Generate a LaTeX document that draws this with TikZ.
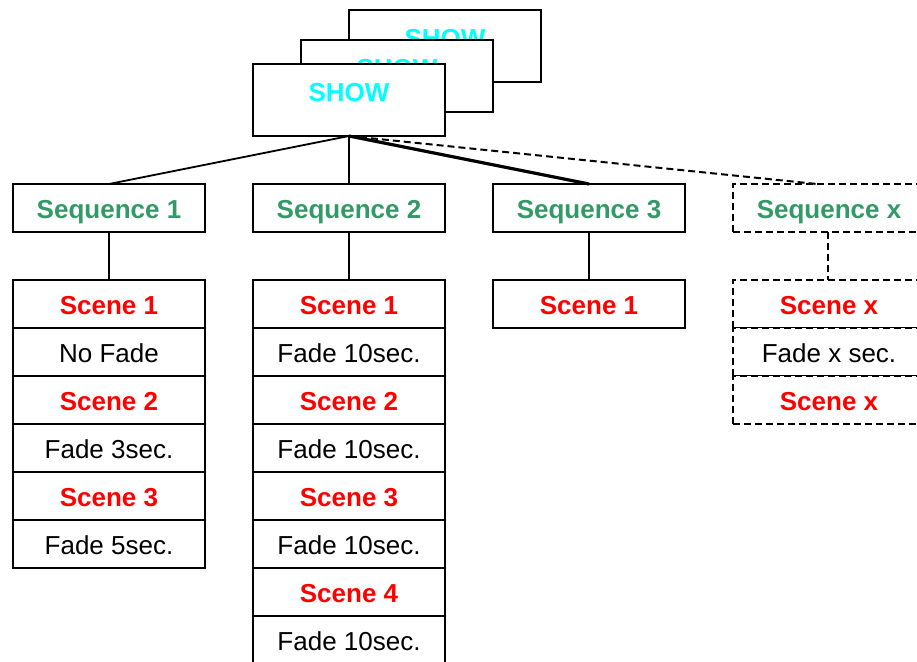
\documentclass[tikz,border=0pt]{standalone}
\usepackage{fontspec}
\setmainfont{Liberation Sans}
\definecolor{seqgreen}{RGB}{51,153,102}
\definecolor{showcyan}{RGB}{0,255,255}
\definecolor{scenered}{RGB}{255,0,0}
\begin{document}
\begin{tikzpicture}[x=1pt,y=-1pt,
  box/.style={draw,line width=1.8pt,fill=white,minimum width=192pt,minimum height=48pt,
    inner sep=0pt,outer sep=0pt,anchor=north west,font=\fontsize{26}{30}\selectfont,
    text height=21.4pt,text depth=0pt},
  showbox/.style={box,minimum height=72pt},
  showtxt/.style={font=\fontsize{26}{30}\selectfont\bfseries,text=showcyan,inner sep=0pt,text height=20.6pt,text depth=0pt},
  seqbox/.style={box,font=\fontsize{26}{30}\selectfont\bfseries,text=seqgreen},
  scenebox/.style={box,font=\fontsize{26}{30}\selectfont\bfseries,text=scenered},
  fadebox/.style={box,text=black},
  dashbox/.style={dash pattern=on 7pt off 4pt},
  conn/.style={line width=1.8pt},
  thickconn/.style={line width=3.2pt},
  dashconn/.style={line width=2pt,dash pattern=on 7pt off 4pt}
]
\useasboundingbox (0,0) rectangle (917,661);
\clip (0,0) rectangle (917,661);

% SHOW boxes
\node[showbox] (show3) at (349,10) {};
\node[showtxt] (show3t) at ([yshift=-27pt]show3.north) {SHOW};
\node[showbox] (show2) at (301,40) {};
\node[showtxt] (show2t) at ([yshift=-27pt]show2.north) {SHOW};
\node[showbox] (show1) at (253,64) {};
\node[showtxt] (show1t) at ([yshift=-27pt]show1.north) {SHOW};

% Sequences
\node[seqbox] (seq1) at (13,184) {Sequence 1};
\node[seqbox] (seq2) at (253,184) {Sequence 2};
\node[seqbox] (seq3) at (493,184) {Sequence 3};
\node[seqbox,dashbox] (seqx) at (733,184) {Sequence x};
\coordinate (seqxend) at (817,184);

\draw[conn] (show1.south) -- (seq1.north);
\draw[conn] (show1.south) -- (seq2.north);
\draw[thickconn] (show1.south) -- (seq3.north);
\draw[dashconn] (show1.south) -- (seqxend);

% Column 1
\node[scenebox] (c1r1) at (13,280) {Scene 1};
\node[fadebox]  (c1r2) at (13,328) {No Fade};
\node[scenebox] (c1r3) at (13,376) {Scene 2};
\node[fadebox]  (c1r4) at (13,424) {Fade 3sec.};
\node[scenebox] (c1r5) at (13,472) {Scene 3};
\node[fadebox]  (c1r6) at (13,520) {Fade 5sec.};

% Column 2
\node[scenebox] (c2r1) at (253,280) {Scene 1};
\node[fadebox]  (c2r2) at (253,328) {Fade 10sec.};
\node[scenebox] (c2r3) at (253,376) {Scene 2};
\node[fadebox]  (c2r4) at (253,424) {Fade 10sec.};
\node[scenebox] (c2r5) at (253,472) {Scene 3};
\node[fadebox]  (c2r6) at (253,520) {Fade 10sec.};
\node[scenebox] (c2r7) at (253,568) {Scene 4};
\node[fadebox]  (c2r8) at (253,616) {Fade 10sec.};

% Column 3
\node[scenebox] (c3r1) at (493,280) {Scene 1};

% Column x
\node[scenebox,dashbox] (cxr1) at (733,280) {Scene x};
\node[fadebox,dashbox]  (cxr2) at (733,328) {Fade x sec.};
\node[scenebox,dashbox] (cxr3) at (733,376) {Scene x};

\draw[conn] (seq1.south) -- (c1r1.north);
\draw[conn] (seq2.south) -- (c2r1.north);
\draw[conn] (seq3.south) -- (c3r1.north);
\draw[dashconn] ([xshift=-1pt]seqx.south) -- ([xshift=-1pt]cxr1.north);
\end{tikzpicture}
\end{document}
